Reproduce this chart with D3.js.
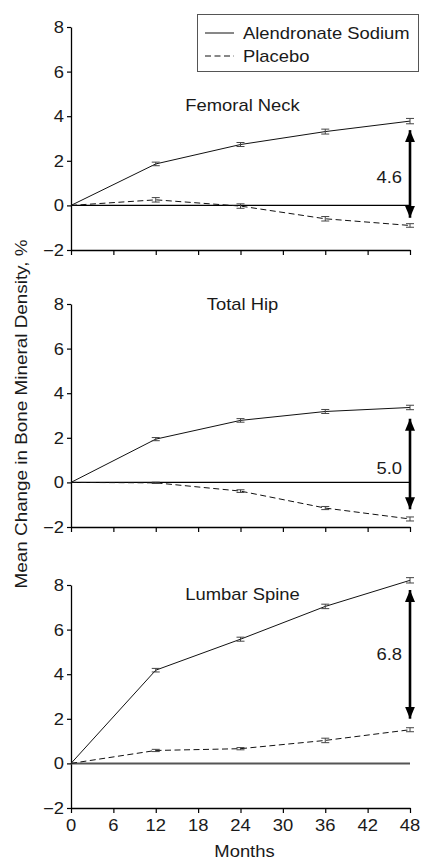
<!DOCTYPE html>
<html><head><meta charset="utf-8">
<script src="https://cdn.jsdelivr.net/npm/d3@7"></script>
<style>
html,body{margin:0;padding:0;background:#fff;}
svg{display:block;font-family:"Liberation Sans",Arial,Helvetica,sans-serif;}
</style></head>
<body>
<svg id="chart" width="422" height="861"></svg>
<script>
const months = [0, 12, 24, 36, 48];
const xTicks = [0, 6, 12, 18, 24, 30, 36, 42, 48];
const yTicks = [-2, 0, 2, 4, 6, 8];
const panelNames = ["Femoral Neck", "Total Hip", "Lumbar Spine"];
const alendronate = [
  [0, 1.86, 2.73, 3.31, 3.78],
  [0, 1.94, 2.78, 3.18, 3.36],
  [0, 4.18, 5.57, 7.04, 8.21]
];
const alendronateErr = [
  [0, 0.08, 0.09, 0.11, 0.12],
  [0, 0.07, 0.08, 0.09, 0.1],
  [0, 0.08, 0.09, 0.1, 0.12]
];
const placebo = [
  [0, 0.25, -0.03, -0.6, -0.9],
  [0, -0.02, -0.39, -1.15, -1.64],
  [0, 0.58, 0.66, 1.03, 1.51]
];
const placeboErr = [
  [0, 0.1, 0.1, 0.1, 0.08],
  [0, 0.03, 0.06, 0.07, 0.09],
  [0, 0.05, 0.05, 0.1, 0.09]
];
const diffLabels = ["4.6", "5.0", "6.8"];
const arrowTop = [3.42, 2.9, 7.82];
const arrowBottom = [-0.6, -1.25, 1.96];
const seriesNames = ["Alendronate Sodium", "Placebo"];

const svg = d3.select("#chart");
const SX = 1.15;
const FS = 16;
const left = 71, right = 410;
const panelTops = [27, 304, 585];
const panelH = 223;

const x = d3.scaleLinear().domain([0, 48]).range([left, right]);

function txt(g, px, py, s, anchor, sx) {
  return g.append("text")
    .attr("transform", `translate(${px},${py}) scale(${sx || SX},1)`)
    .attr("text-anchor", anchor || "start")
    .attr("font-size", FS)
    .attr("fill", "#1a1a1a")
    .text(s);
}

const defs = svg.append("defs");
defs.append("marker").attr("id", "ah")
  .attr("viewBox", "0 0 12 10").attr("refX", 12).attr("refY", 5)
  .attr("markerWidth", 12).attr("markerHeight", 10)
  .attr("markerUnits", "userSpaceOnUse").attr("orient", "auto-start-reverse")
  .append("path").attr("d", "M0,0 L12,5 L0,10 Z").attr("fill", "#000");

panelNames.forEach((name, i) => {
  const top = panelTops[i];
  const y = d3.scaleLinear().domain([-2, 8]).range([top + panelH, top]);
  const g = svg.append("g");

  // y axis
  const ya = g.append("g").attr("transform", `translate(${left},0)`)
    .call(d3.axisLeft(y).tickValues(yTicks).tickSize(4).tickSizeOuter(0).tickFormat(() => ""));
  ya.select(".domain").attr("stroke", "#000").attr("stroke-width", 1.3);
  ya.selectAll(".tick line").attr("stroke", "#000").attr("stroke-width", 1.2);
  yTicks.forEach(t => {
    txt(g, 64, y(t) + 6, t < 0 ? "\u2212" + Math.abs(t) : String(t), "end");
  });

  // x axis at -2
  const xa = g.append("g").attr("transform", `translate(0,${y(-2)})`)
    .call(d3.axisBottom(x).tickValues(xTicks).tickSize(5).tickSizeOuter(0).tickFormat(() => ""));
  xa.select(".domain").attr("stroke", "#000").attr("stroke-width", 1.3);
  xa.selectAll(".tick line").attr("stroke", "#000").attr("stroke-width", 1.2);
  if (i === 2) {
    xTicks.forEach(t => txt(g, x(t), y(-2) + 23, String(t), "middle"));
    txt(g, (left + right) / 2 + 4, 857, "Months", "middle");
  }

  // zero line
  g.append("line").attr("x1", x(0)).attr("x2", x(48)).attr("y1", y(0)).attr("y2", y(0))
    .attr("stroke", i === 2 ? "#555" : "#000").attr("stroke-width", i === 2 ? 2 : 1.3);

  // panel title
  const titleY = [111, 310, 600][i];
  txt(g, (left + right) / 2 + 2, titleY, name, "middle");

  // series
  const line = d3.line().x((d, j) => x(months[j])).y(d => y(d));
  [[alendronate[i], alendronateErr[i], null], [placebo[i], placeboErr[i], "6,3.5"]].forEach(([vals, errs, dash]) => {
    g.append("path").datum(vals).attr("d", line).attr("fill", "none")
      .attr("stroke", "#111").attr("stroke-width", 1)
      .attr("stroke-dasharray", dash);
    vals.forEach((v, j) => {
      if (!errs[j]) return;
      const cx = x(months[j]), y1 = y(v + errs[j]), y2 = y(v - errs[j]);
      g.append("line").attr("x1", cx).attr("x2", cx).attr("y1", y1).attr("y2", y2).attr("stroke", "#444").attr("stroke-width", 1);
      [y1, y2].forEach(yy => g.append("line").attr("x1", cx - 4).attr("x2", cx + 4).attr("y1", yy).attr("y2", yy).attr("stroke", "#444").attr("stroke-width", 1));
    });
  });

  // difference arrow
  g.append("line").attr("x1", x(48)).attr("x2", x(48))
    .attr("y1", y(arrowTop[i]) + 1).attr("y2", y(arrowBottom[i]) - 1)
    .attr("stroke", "#000").attr("stroke-width", 2.6)
    .attr("marker-start", "url(#ah)").attr("marker-end", "url(#ah)");
  const mid = (arrowTop[i] + arrowBottom[i]) / 2;
  txt(g, 402, y(mid) + 6 + [3, 4, 0][i], diffLabels[i], "end");
});

// y label
svg.append("text")
  .attr("transform", `translate(27,414) rotate(-90) scale(1.18,1)`)
  .attr("text-anchor", "middle").attr("font-size", FS).attr("fill", "#1a1a1a")
  .text("Mean Change in Bone Mineral Density, %");

// legend
const lg = svg.append("g");
lg.append("rect").attr("x", 197.5).attr("y", 14.5).attr("width", 221).attr("height", 57)
  .attr("fill", "#fff").attr("stroke", "#555").attr("stroke-width", 1);
[null, "6,3.5"].forEach((dash, k) => {
  const ly = [33, 56][k];
  lg.append("line").attr("x1", 205).attr("x2", 234).attr("y1", ly).attr("y2", ly)
    .attr("stroke", "#111").attr("stroke-width", 1).attr("stroke-dasharray", dash);
  txt(lg, 243, ly + 5.5, seriesNames[k], "start");
});
</script>
</body></html>
